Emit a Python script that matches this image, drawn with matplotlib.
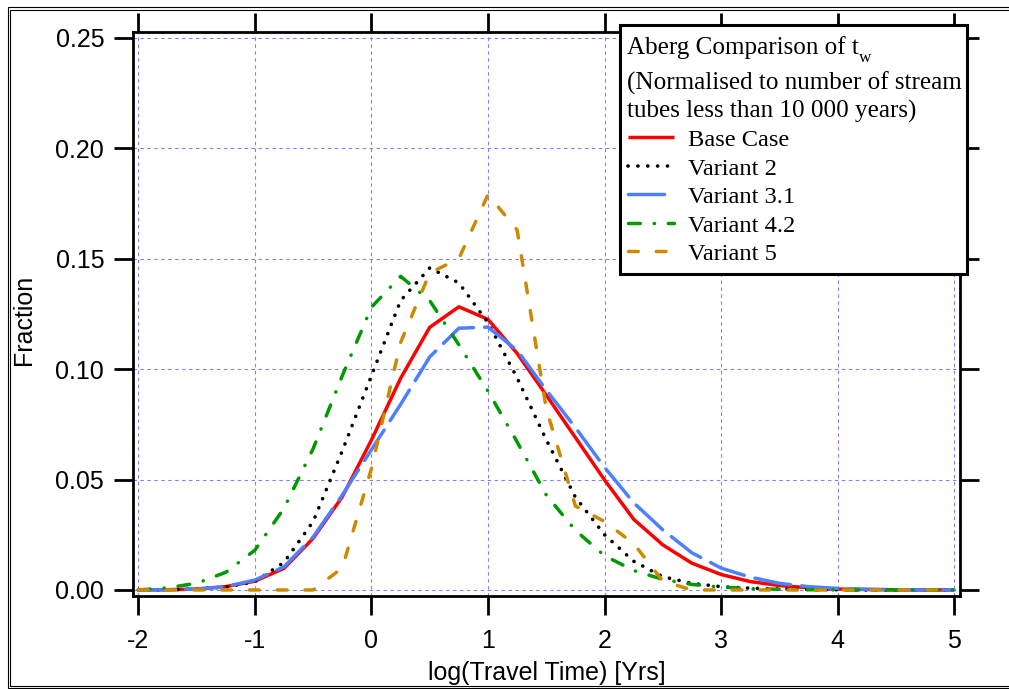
import matplotlib
matplotlib.use("Agg")
import matplotlib.pyplot as plt
from matplotlib.patches import Rectangle
from matplotlib.lines import Line2D

plt.rcParams["font.family"] = ["Liberation Sans", "DejaVu Sans"]
plt.rcParams["axes.unicode_minus"] = False
plt.rcParams["lines.scale_dashes"] = False

# log10 of travel time [years], bin centres
log_time = [-2, -1.75, -1.5, -1.25, -1, -0.75, -0.5, -0.25, 0, 0.25, 0.5, 0.75,
            1, 1.25, 1.5, 1.75, 2, 2.25, 2.5, 2.75, 3, 3.25, 3.5, 3.75, 4,
            4.25, 4.5, 4.75, 5]

base_case = [0, 0.0001, 0.0004, 0.0015, 0.0040, 0.0098, 0.0234, 0.0422, 0.0679,
             0.0958, 0.1189, 0.1282, 0.1225, 0.1071, 0.0882, 0.0690, 0.0498,
             0.0320, 0.0204, 0.0121, 0.0070, 0.0038, 0.0020, 0.0010, 0.0004,
             0.0002, 0.0001, 0, 0]
variant_2 = [0, 0.0001, 0.0004, 0.0013, 0.0038, 0.0125, 0.0310, 0.0630, 0.0970,
             0.1310, 0.1458, 0.1390, 0.1210, 0.0960, 0.0680, 0.0420, 0.0250,
             0.0130, 0.0060, 0.0030, 0.0015, 0.0008, 0.0004, 0.0002, 0.0001,
             0, 0, 0, 0]
variant_3_1 = [0, 0.0001, 0.0004, 0.0015, 0.0045, 0.0105, 0.0240, 0.0430, 0.0635,
               0.0840, 0.1055, 0.1185, 0.1190, 0.1085, 0.0905, 0.0735, 0.0555,
               0.0395, 0.0272, 0.0168, 0.0099, 0.0058, 0.0030, 0.0015, 0.0007,
               0.0003, 0.0001, 0, 0]
variant_4_2 = [0, 0.0010, 0.0030, 0.0080, 0.0180, 0.0370, 0.0640, 0.0970, 0.1280,
               0.1420, 0.1310, 0.1110, 0.0900, 0.0670, 0.0430, 0.0270, 0.0155,
               0.0088, 0.0048, 0.0025, 0.0013, 0.0006, 0.0003, 0.0001, 0,
               0, 0, 0, 0]
variant_5 = [0, 0, 0, 0, 0, 0, 0, 0.0100, 0.0550, 0.1120, 0.1435, 0.1500, 0.1790,
             0.1630, 0.0820, 0.0380, 0.0310, 0.0210, 0.0040, 0, 0, 0, 0, 0, 0,
             0, 0, 0, 0]

series_names = ["Base Case", "Variant 2", "Variant 3.1", "Variant 4.2", "Variant 5"]
series_values = [base_case, variant_2, variant_3_1, variant_4_2, variant_5]
styles = [
    dict(color="#ff0000", lw=2.5, linestyle="-"),
    dict(color="#000000", lw=2.6, linestyle=(0, (0.1, 7.0)), dash_capstyle="round"),
    dict(color="#4d80ff", lw=2.5, linestyle=(0, (26, 8)), dash_capstyle="round"),
    dict(color="#009a00", lw=2.5, linestyle=(0, (8.5, 10, 0.2, 10)), dash_capstyle="round"),
    dict(color="#cc8a00", lw=2.5, linestyle=(0, (7, 13)), dash_capstyle="round"),
]

x_ticks = [-2, -1, 0, 1, 2, 3, 4, 5]
y_ticks = [0.00, 0.05, 0.10, 0.15, 0.20, 0.25]
y_tick_labels = ["0.00", "0.05", "0.10", "0.15", "0.20", "0.25"]

W, H = 1009, 689
fig = plt.figure(figsize=(W / 100, H / 100), dpi=100)
fig.patch.set_facecolor("white")

left, right, top, bottom = 133, 960, 32, 595.7
ax = fig.add_axes([left / W, (H - bottom) / H, (right - left) / W, (bottom - top) / H])

for vals, st in zip(series_values, styles):
    ax.plot(log_time, vals, solid_capstyle="butt", **st)

ax.set_xlim(-2.046, 5.05)
ax.set_ylim(-0.0026, 0.2526)
ax.set_xticks(x_ticks)
ax.set_xticklabels([str(t) for t in x_ticks])
ax.set_yticks(y_ticks)
ax.set_yticklabels(y_tick_labels)
ax.minorticks_off()

ax.grid(True, color="#8080ff", lw=0.8, linestyle=(0, (2.5, 2.5)))
ax.set_axisbelow(True)

for sp in ax.spines.values():
    sp.set_linewidth(2.0)
ax.tick_params(direction="out", length=13.7, width=2.0, top=True, right=True,
               labeltop=False, labelright=False, labelsize=18, color="black")
ax.tick_params(axis="x", pad=10)
ax.tick_params(axis="y", pad=7)

ax.set_xlabel("log(Travel Time) [Yrs]", fontsize=18)
ax.xaxis.label.set_va("baseline")
ax.xaxis.set_label_coords(0.5, -(680 - bottom) / (bottom - top))
ax.set_ylabel("Fraction", fontsize=18)
ax.yaxis.label.set_va("center")
ax.yaxis.set_label_coords((24 - left) / (right - left), (bottom - 320) / (bottom - top))

# Overlay in pixel coordinates for the frame and the legend box
ov = fig.add_axes([0, 0, 1, 1], zorder=10)
ov.set_xlim(0, W)
ov.set_ylim(H, 0)
ov.axis("off")
ov.patch.set_visible(False)

# double border around the figure
ov.plot([1015, 8, 8, 1015], [7.3, 7.3, 688, 688], color="black", lw=0.8,
        solid_joinstyle="miter")
ov.plot([1015, 10.3, 10.3, 1015], [9.6, 9.6, 685.8, 685.8], color="black", lw=0.8,
        solid_joinstyle="miter")

# legend box
ov.add_patch(Rectangle((620, 25), 347, 249, facecolor="white", edgecolor="black",
                       lw=2.2, joinstyle="miter"))
serif = ["Liberation Serif", "DejaVu Serif"]
fs_title = 18.1
fs_entry = 17.6
t1 = ov.text(626.7, 54.3, "Aberg Comparison of t", family=serif,
             fontsize=fs_title, va="baseline", ha="left")
fig.canvas.draw()
bb = t1.get_window_extent(renderer=fig.canvas.get_renderer())
x_sub = ov.transData.inverted().transform((bb.x1, bb.y0))[0]
ov.text(x_sub + 0.5, 62.5, "w", family=serif, fontsize=fs_title * 0.68,
        va="baseline", ha="left")
ov.text(626.7, 89.3, "(Normalised to number of stream", family=serif,
        fontsize=fs_title, va="baseline", ha="left")
ov.text(626.7, 117.3, "tubes less than 10 000 years)", family=serif,
        fontsize=fs_title, va="baseline", ha="left")

entry_baselines = [145.7, 175.0, 203.3, 231.7, 260.0]
for name, st, yb in zip(series_names, styles, entry_baselines):
    yh = yb - 9.0
    ov.add_line(Line2D([628, 674], [yh, yh], solid_capstyle="butt", **st))
    ov.text(688.3, yb, name, family=serif, fontsize=fs_entry, va="baseline", ha="left")

fig.savefig("out.png", dpi=100, facecolor="white")
